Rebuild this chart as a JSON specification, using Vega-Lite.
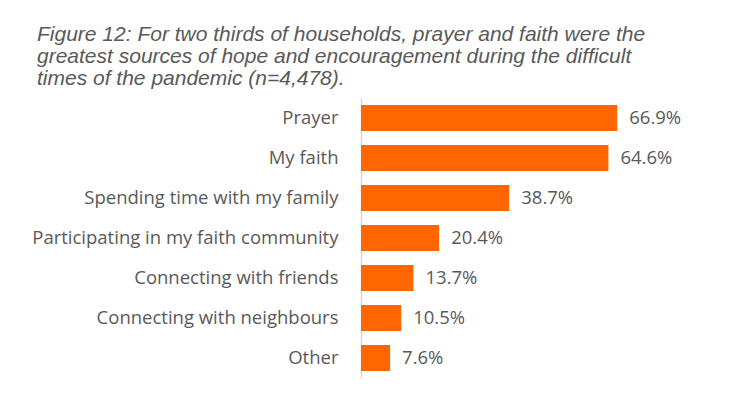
{
  "$schema": "https://vega.github.io/schema/vega-lite/v6.json",
  "autosize": {"type": "none"},
  "padding": {"left": 361, "top": 98, "right": 0, "bottom": 0},
  "width": 383,
  "height": 280,
  "background": "white",
  "title": {
    "text": ["Figure 12: For two thirds of households, prayer and faith were the", "greatest sources of hope and encouragement during the difficult", "times of the pandemic (n=4,478)."],
    "anchor": "start",
    "frame": "group",
    "dx": -324,
    "offset": 9,
    "font": "Liberation Sans",
    "fontStyle": "italic",
    "fontWeight": "normal",
    "fontSize": 21,
    "lineHeight": 22,
    "color": "#595959"
  },
  "data": {
    "values": [
      {"source": "Prayer", "pct": 0.669},
      {"source": "My faith", "pct": 0.646},
      {"source": "Spending time with my family", "pct": 0.387},
      {"source": "Participating in my faith community", "pct": 0.204},
      {"source": "Connecting with friends", "pct": 0.137},
      {"source": "Connecting with neighbours", "pct": 0.105},
      {"source": "Other", "pct": 0.076}
    ]
  },
  "encoding": {
    "y": {
      "field": "source", "type": "nominal", "sort": null,
      "scale": {"paddingInner": 0.35, "paddingOuter": 0.175},
      "axis": {
        "title": null, "ticks": false, "domainColor": "#d9d9d9", "domainWidth": 1.5,
        "labelFont": "Open Sans", "labelFontSize": 18.5, "labelColor": "#595959",
        "labelPadding": 23, "labelLimit": 400
      }
    },
    "x": {
      "field": "pct", "type": "quantitative",
      "scale": {"domain": [0, 1]},
      "axis": null
    }
  },
  "layer": [
    {"mark": {"type": "bar", "color": "#FF6600"}},
    {
      "mark": {"type": "text", "align": "left", "baseline": "middle", "dx": 12, "font": "Open Sans", "fontSize": 18.5, "color": "#595959"},
      "encoding": {"text": {"field": "pct", "type": "quantitative", "format": ".1%"}}
    }
  ],
  "config": {"view": {"stroke": null}}
}
